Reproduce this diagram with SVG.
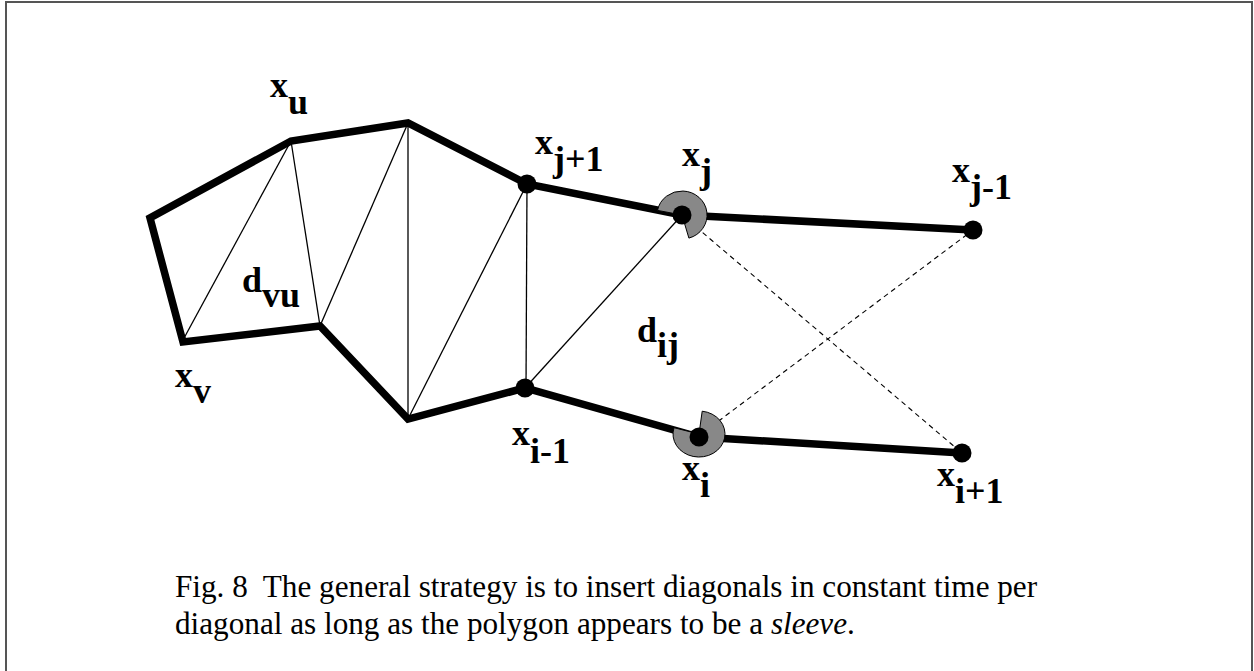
<svg xmlns="http://www.w3.org/2000/svg" width="1254" height="671" viewBox="0 0 1254 671">
<style>
.thick{fill:none;stroke:#000;stroke-width:7.5;stroke-linejoin:miter;stroke-miterlimit:10}
.thin{fill:none;stroke:#000;stroke-width:1.3}
.dash{fill:none;stroke:#000;stroke-width:1.1;stroke-dasharray:5 4}
.dot{fill:#000}
.wedge{fill:#888;stroke:#000;stroke-width:1}
.lbl{font-family:"Liberation Serif","Times New Roman",serif;font-weight:bold;font-size:36px;fill:#000}
.cap{font-family:"Liberation Serif","Times New Roman",serif;font-size:31.2px;fill:#000}
</style>
<rect width="1254" height="671" fill="#fff"/>
<path d="M6,671 V2 H1252 V671" fill="none" stroke="#555" stroke-width="2"/>
<g id="connectors">
<polyline class="thick" points="973,230 682,215 527,184 408,123 291,141 150,218 183,342 320,326 408,419 525,388 699,437 962,453"/>
<line class="thin" x1="183" y1="340" x2="291" y2="141"/>
<line class="thin" x1="291" y1="141" x2="320" y2="326"/>
<line class="thin" x1="320" y1="326" x2="408" y2="123"/>
<line class="thin" x1="408" y1="123" x2="408" y2="419"/>
<line class="thin" x1="408" y1="419" x2="527" y2="184"/>
<line class="thin" x1="527" y1="184" x2="526" y2="388"/>
<line class="thin" x1="525" y1="388" x2="682" y2="215"/>
<line class="dash" x1="689" y1="221" x2="962" y2="453"/>
<line class="dash" x1="704" y1="432" x2="973" y2="230"/>
</g>
<g id="node-xu"><text class="lbl" x="270" y="97">x<tspan dy="17">u</tspan></text></g>
<g id="node-xv"><text class="lbl" x="175" y="387">x<tspan dy="16">v</tspan></text></g>
<g id="label-dvu"><text class="lbl" x="242" y="292">d<tspan dy="15">vu</tspan></text></g>
<g id="node-xj1">
<circle class="dot" cx="527" cy="184" r="9.5"/>
<text class="lbl" x="535" y="154">x<tspan dy="17">j+1</tspan></text>
</g>
<g id="node-xj">
<path class="wedge" d="M682,215 L657.5,210.4 A25,24 0 1 1 688.9,238.1 Z"/>
<circle class="dot" cx="682" cy="215" r="9.5"/>
<text class="lbl" x="682" y="166">x<tspan dy="17">j</tspan></text>
</g>
<g id="node-xjm1">
<circle class="dot" cx="973" cy="230" r="9.5"/>
<text class="lbl" x="952" y="182">x<tspan dy="17">j-1</tspan></text>
</g>
<g id="label-dij"><text class="lbl" x="637" y="342">d<tspan dy="15">ij</tspan></text></g>
<g id="node-xim1">
<circle class="dot" cx="525" cy="388" r="9.5"/>
<text class="lbl" x="512" y="445">x<tspan dy="18">i-1</tspan></text>
</g>
<g id="node-xi">
<path class="wedge" d="M699,434 L702.2,411.2 A26,23 0 1 1 674,427.7 Z"/>
<circle class="dot" cx="699" cy="437" r="9.5"/>
<text class="lbl" x="682" y="480">x<tspan dy="17">i</tspan></text>
</g>
<g id="node-xi1">
<circle class="dot" cx="962" cy="453" r="9.5"/>
<text class="lbl" x="937" y="486">x<tspan dy="17">i+1</tspan></text>
</g>
<g id="caption">
<text class="cap" x="175" y="597" xml:space="preserve">Fig. 8  The general strategy is to insert diagonals in constant time per</text>
<text class="cap" x="175" y="634">diagonal as long as the polygon appears to be a <tspan font-style="italic">sleeve</tspan>.</text>
</g>
</svg>
